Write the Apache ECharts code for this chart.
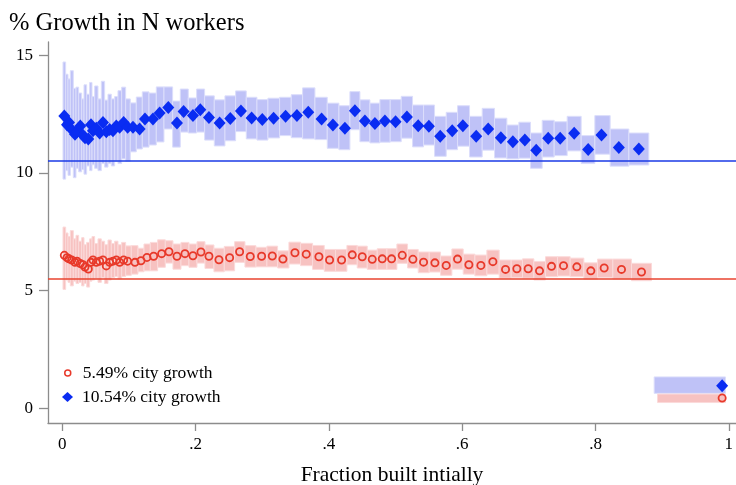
<!DOCTYPE html>
<html>
<head>
<meta charset="utf-8">
<script src="https://cdn.jsdelivr.net/npm/echarts@6/dist/echarts.min.js"></script>
<style>
  html, body { margin: 0; padding: 0; background: #fff; }
  #chart { width: 736px; height: 485px; }
</style>
</head>
<body>
<div id="chart"></div>
<script>
// Fraction of the city built initially (bin means) and % growth in N workers,
// with the confidence band (low/high) of each bin.
const fracBuiltRed = [
  0.003, 0.007, 0.010, 0.014, 0.019, 0.022, 0.027, 0.031, 0.034, 0.039, 0.043,
  0.046, 0.051, 0.056, 0.061, 0.066, 0.071, 0.076, 0.081, 0.086, 0.092, 0.098,
  0.109, 0.118, 0.127, 0.137, 0.149, 0.160, 0.172, 0.184, 0.196, 0.208,
  0.220, 0.235, 0.251, 0.266, 0.282, 0.299, 0.315, 0.331, 0.349, 0.366,
  0.385, 0.401, 0.419, 0.435, 0.450, 0.465, 0.480, 0.494, 0.510, 0.526,
  0.542, 0.559, 0.576, 0.593, 0.610, 0.628, 0.646, 0.665, 0.682, 0.699,
  0.716, 0.734, 0.752, 0.772, 0.793, 0.813, 0.839, 0.869
];
const redGrowth = [
  6.50, 6.40, 6.35, 6.30, 6.20, 6.25, 6.15, 6.10, 6.00, 5.92, 6.20,
  6.30, 6.20, 6.25, 6.30, 6.05, 6.20, 6.25, 6.30, 6.20, 6.30, 6.25,
  6.20, 6.27, 6.41, 6.46, 6.57, 6.65, 6.46, 6.57, 6.48, 6.64,
  6.46, 6.31, 6.40, 6.65, 6.45, 6.46, 6.47, 6.34, 6.61, 6.55,
  6.44, 6.30, 6.30, 6.52, 6.44, 6.33, 6.35, 6.35, 6.50, 6.33,
  6.21, 6.18, 6.07, 6.34, 6.10, 6.07, 6.23, 5.90, 5.93, 5.93,
  5.84, 6.03, 6.06, 6.01, 5.84, 5.96, 5.90, 5.79
];
const redHigh = [
  7.70, 7.45, 7.30, 7.55, 7.20, 7.35, 7.10, 7.25, 6.95, 7.05, 7.20,
  7.30, 7.00, 7.20, 7.10, 6.95, 7.15, 7.00, 7.10, 6.95, 7.05, 6.90,
  6.91, 6.80, 6.98, 7.05, 7.16, 7.12, 6.98, 7.05, 6.98, 7.08,
  6.94, 6.80, 6.88, 7.08, 6.91, 6.84, 6.89, 6.69, 7.06, 7.01,
  6.92, 6.75, 6.75, 6.92, 6.89, 6.72, 6.78, 6.78, 6.98, 6.75,
  6.64, 6.64, 6.47, 6.77, 6.55, 6.51, 6.72, 6.30, 6.30, 6.35,
  6.24, 6.44, 6.44, 6.38, 6.18, 6.34, 6.34, 6.16
];
const redLow = [
  5.05, 5.45, 5.35, 5.20, 5.40, 5.30, 5.35, 5.20, 5.30, 5.15, 5.40,
  5.45, 5.50, 5.35, 5.55, 5.30, 5.45, 5.55, 5.60, 5.50, 5.60, 5.65,
  5.70, 5.80, 5.84, 5.84, 5.99, 6.17, 5.91, 6.06, 5.99, 6.17,
  5.94, 5.80, 5.84, 6.20, 6.00, 6.01, 6.01, 5.96, 6.13, 6.06,
  5.90, 5.82, 5.82, 6.10, 5.96, 5.90, 5.90, 5.90, 6.16, 5.96,
  5.76, 5.79, 5.65, 5.91, 5.70, 5.63, 5.70, 5.53, 5.56, 5.53,
  5.45, 5.59, 5.62, 5.59, 5.48, 5.56, 5.49, 5.42
];

const fracBuiltBlue = [
  0.003, 0.007, 0.010, 0.014, 0.019, 0.022, 0.027, 0.031, 0.034, 0.039, 0.043,
  0.046, 0.051, 0.056, 0.061, 0.066, 0.071, 0.076, 0.081, 0.086, 0.092, 0.098,
  0.106, 0.116, 0.124, 0.136, 0.146, 0.159, 0.172, 0.182, 0.196, 0.207,
  0.220, 0.236, 0.252, 0.268, 0.284, 0.300, 0.317, 0.335, 0.352, 0.369,
  0.389, 0.406, 0.424, 0.439, 0.454, 0.469, 0.484, 0.500, 0.517, 0.534,
  0.550, 0.567, 0.585, 0.601, 0.621, 0.639, 0.658, 0.676, 0.694, 0.711,
  0.729, 0.747, 0.768, 0.789, 0.809, 0.835, 0.865
];
const blueGrowth = [
  12.42, 12.05, 12.15, 11.85, 11.65, 11.75, 12.00, 11.60, 11.50, 11.45, 12.05,
  11.80, 11.90, 11.70, 12.15, 11.75, 11.85, 11.80, 12.00, 11.95, 12.15, 11.95,
  11.94, 11.87, 12.30, 12.30, 12.55, 12.79, 12.13, 12.61, 12.45, 12.69,
  12.36, 12.13, 12.32, 12.64, 12.34, 12.27, 12.33, 12.41, 12.44, 12.58,
  12.30, 12.04, 11.90, 12.65, 12.21, 12.10, 12.21, 12.18, 12.38, 12.01,
  11.99, 11.56, 11.80, 12.01, 11.56, 11.87, 11.50, 11.33, 11.40, 10.97,
  11.48, 11.48, 11.69, 11.00, 11.62, 11.08, 11.02
];
const blueHigh = [
  14.72, 14.20, 14.00, 14.35, 13.60, 13.65, 13.40, 13.15, 13.75, 13.35, 13.85,
  13.25, 13.70, 13.15, 13.90, 13.10, 13.35, 13.15, 13.25, 13.50, 13.65, 13.15,
  12.98, 13.23, 13.45, 13.40, 13.66, 13.66, 13.06, 13.57, 13.19, 13.57,
  13.28, 13.11, 13.28, 13.49, 13.22, 13.12, 13.18, 13.22, 13.33, 13.62,
  13.22, 12.97, 12.86, 13.46, 13.11, 12.97, 13.12, 13.12, 13.26, 12.89,
  12.89, 12.41, 12.58, 12.86, 12.41, 12.75, 12.33, 12.04, 12.16, 11.70,
  12.24, 12.18, 12.41, 11.59, 12.44, 11.87, 11.70
];
const blueLow = [
  9.74, 10.10, 9.90, 10.25, 9.80, 10.20, 10.05, 10.15, 9.95, 10.30, 10.10,
  10.35, 10.20, 10.10, 10.40, 10.25, 10.40, 10.30, 10.50, 10.40, 10.60, 10.50,
  10.90, 11.02, 11.10, 11.19, 11.32, 11.87, 11.10, 11.74, 11.70, 11.74,
  11.40, 11.15, 11.37, 11.76, 11.45, 11.40, 11.49, 11.59, 11.50, 11.45,
  11.42, 11.05, 10.99, 11.84, 11.33, 11.28, 11.31, 11.33, 11.48, 11.11,
  11.19, 10.71, 10.99, 11.14, 10.68, 10.97, 10.64, 10.60, 10.63, 10.20,
  10.68, 10.74, 10.94, 10.40, 10.80, 10.29, 10.34
];

// Cities built (almost) entirely at the start: one wide bin of its own.
const fullyBuiltX = 0.99;
const fullyBuiltBinRed = [0.893, 0.995];
const fullyBuiltBinBlue = [0.888, 0.995];
const fullyBuiltRed = [0.43, 0.24, 0.60];   // growth, low, high
const fullyBuiltBlue = [0.95, 0.63, 1.33];

// Average city growth (reference lines)
const cityGrowthRed = 5.49;
const cityGrowthBlue = 10.54;

const xTicks = [0, 0.2, 0.4, 0.6, 0.8, 1];
const yTicks = [0, 5, 10, 15];

const nameRed = '5.49% city growth';
const nameBlue = '10.54% city growth';

const RED = '#e8392a', RED_BAND = '#f7c2c1', RED_EDGE = '#fbdada';
const BLUE = '#0a2cf2', BLUE_BAND = '#bfc2f7', BLUE_EDGE = '#dcdefb';
const FONT = "'Liberation Serif', 'DejaVu Serif', serif";

// Each bin's band spans from the midpoint with its left neighbour to the
// midpoint with its right neighbour.
function bandRows(xs, lo, hi, extra, extraBin) {
  const n = xs.length;
  const rows = xs.map((x, i) => {
    const left = i === 0 ? x - (xs[1] - x) / 2 : (xs[i - 1] + x) / 2;
    const right = i === n - 1 ? x + (x - xs[n - 2]) / 2 : (x + xs[i + 1]) / 2;
    return [x, lo[i], hi[i], left, right];
  });
  rows.push([fullyBuiltX, extra[1], extra[2], extraBin[0], extraBin[1]]);
  return rows;
}

function pointRows(xs, ys, extra) {
  const rows = xs.map((x, i) => [x, ys[i]]);
  rows.push([fullyBuiltX, extra[0]]);
  return rows;
}

function bandRenderer(fill, edge) {
  return function (params, api) {
    const p1 = api.coord([api.value(3), api.value(2)]);
    const p2 = api.coord([api.value(4), api.value(1)]);
    return {
      type: 'rect',
      shape: { x: p1[0], y: p1[1], width: p2[0] - p1[0], height: p2[1] - p1[1] },
      style: { fill: fill, stroke: edge, lineWidth: 1 }
    };
  };
}

const fmtX = v => (v === 0 ? '0' : v === 1 ? '1' : String(+v.toFixed(1)).replace(/^0/, ''));

const chart = echarts.init(document.getElementById('chart'), null, { renderer: 'canvas' });
chart.setOption({
  animation: false,
  backgroundColor: '#fff',
  textStyle: { fontFamily: FONT },
  title: {
    text: '% Growth in N workers',
    left: 9, top: 11, padding: 0,
    textStyle: { fontFamily: FONT, fontSize: 24.5, fontWeight: 'normal', color: '#000' }
  },
  grid: { left: 48, right: 0, top: 42, bottom: 62, containLabel: false, outerBoundsMode: 'none' },
  xAxis: {
    type: 'value',
    min: -0.0215, max: 1.0108,
    splitLine: { show: false },
    axisLine: { show: true, onZero: false, lineStyle: { color: '#8c8c8c', width: 1.3 } },
    axisTick: { show: true, length: 8, customValues: xTicks, lineStyle: { color: '#8c8c8c', width: 1.3 } },
    axisLabel: { customValues: xTicks, margin: 13, fontFamily: FONT, fontSize: 17, color: '#000', formatter: fmtX },
    name: 'Fraction built intially',
    nameLocation: 'middle', nameGap: 41,
    nameTextStyle: { fontFamily: FONT, fontSize: 21.5, color: '#000' }
  },
  yAxis: {
    type: 'value',
    min: -0.63, max: 15.57,
    splitLine: { show: false },
    axisLine: { show: true, onZero: false, lineStyle: { color: '#8c8c8c', width: 1.3 } },
    axisTick: { show: true, length: 9, customValues: yTicks, lineStyle: { color: '#8c8c8c', width: 1.3 } },
    axisLabel: { customValues: yTicks, margin: 15, fontFamily: FONT, fontSize: 17, color: '#000' }
  },
  legend: [
    {
      data: [{ name: nameRed, icon: 'circle',
               itemStyle: { color: 'rgba(0,0,0,0)', borderColor: RED, borderWidth: 1.5 } }],
      orient: 'vertical', left: 64, top: 364, padding: 0,
      itemWidth: 6, itemHeight: 6,
      textStyle: { fontFamily: FONT, fontSize: 17.5, color: '#000', padding: [0, 0, 0, 7] }
    },
    {
      data: [{ name: nameBlue, icon: 'diamond', itemStyle: { color: BLUE, borderWidth: 0 } }],
      orient: 'vertical', left: 62, top: 388, padding: 0,
      itemWidth: 11, itemHeight: 10,
      textStyle: { fontFamily: FONT, fontSize: 17.5, color: '#000', padding: [0, 0, 0, 4] }
    }
  ],
  series: [
    {
      name: nameBlue,
      type: 'custom',
      z: 1,
      renderItem: bandRenderer(BLUE_BAND, BLUE_EDGE),
      encode: { x: [0, 3, 4], y: [1, 2] },
      data: bandRows(fracBuiltBlue, blueLow, blueHigh, fullyBuiltBlue, fullyBuiltBinBlue),
      silent: true
    },
    {
      name: nameRed,
      type: 'custom',
      z: 1,
      renderItem: bandRenderer(RED_BAND, RED_EDGE),
      encode: { x: [0, 3, 4], y: [1, 2] },
      data: bandRows(fracBuiltRed, redLow, redHigh, fullyBuiltRed, fullyBuiltBinRed),
      silent: true
    },
    {
      name: nameBlue,
      type: 'scatter',
      z: 3,
      symbol: 'diamond',
      symbolSize: [12, 13],
      itemStyle: { color: BLUE, opacity: 1 },
      data: pointRows(fracBuiltBlue, blueGrowth, fullyBuiltBlue),
      markLine: {
        silent: true, symbol: 'none', label: { show: false },
        lineStyle: { color: '#1a3ae6', width: 1.5, type: 'solid' },
        data: [{ yAxis: cityGrowthBlue }],
        z: 2
      }
    },
    {
      name: nameRed,
      type: 'scatter',
      z: 3,
      symbol: 'circle',
      symbolSize: 7.2,
      itemStyle: { color: 'rgba(0,0,0,0)', borderColor: RED, borderWidth: 1.8, opacity: 1 },
      data: pointRows(fracBuiltRed, redGrowth, fullyBuiltRed),
      markLine: {
        silent: true, symbol: 'none', label: { show: false },
        lineStyle: { color: '#e8432f', width: 1.5, type: 'solid' },
        data: [{ yAxis: cityGrowthRed }],
        z: 2
      }
    }
  ]
});
</script>
</body>
</html>
